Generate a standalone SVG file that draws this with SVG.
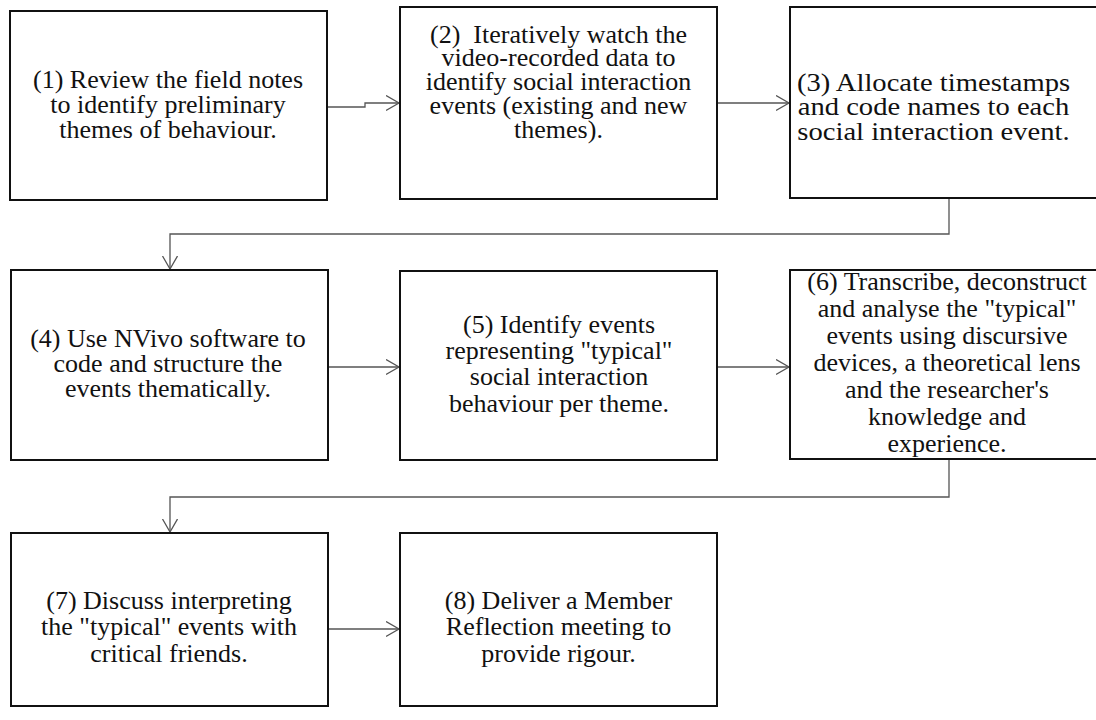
<svg xmlns="http://www.w3.org/2000/svg" width="1096" height="720" viewBox="0 0 1096 720">
<style>
.box{fill:#fff;stroke:#111;stroke-width:2}
.lbl{font-size:26px;fill:#111;text-anchor:middle}
.con{fill:none;stroke:#555;stroke-width:1.3}
</style>
<defs>
<marker id="arr" markerUnits="userSpaceOnUse" markerWidth="16" markerHeight="18" refX="13" refY="8" orient="auto">
<path d="M0,0.5 L13,8 L0,15.5" fill="none" stroke="#555" stroke-width="1.3"/>
</marker>
</defs>
<rect width="1096" height="720" fill="#fff"/>
<g id="connectors">
<path class="con" d="M327,107 H365 V103 H399" marker-end="url(#arr)"/>
<path class="con" d="M717,103 H789" marker-end="url(#arr)"/>
<path class="con" d="M949,198 V234 H170 V269" marker-end="url(#arr)"/>
<path class="con" d="M328,367 H399" marker-end="url(#arr)"/>
<path class="con" d="M717,367 H789" marker-end="url(#arr)"/>
<path class="con" d="M949,459 V497 H170 V532" marker-end="url(#arr)"/>
<path class="con" d="M328,629 H399" marker-end="url(#arr)"/>
</g>
<g id="n1">
<rect class="box" x="10" y="11" width="317" height="189"/>
<text class="lbl" font-family="Liberation Serif, serif"><tspan x="168" y="88">(1) Review the field notes</tspan><tspan x="168" y="113">to identify preliminary</tspan><tspan x="168" y="138">themes of behaviour.</tspan></text>
</g>
<g id="n2">
<rect class="box" x="400" y="7" width="317" height="192"/>
<text class="lbl" font-family="Liberation Serif, serif"><tspan x="558.5" y="43">(2)&#160; Iteratively watch the</tspan><tspan x="558.5" y="66">video-recorded data to</tspan><tspan x="558.5" y="90">identify social interaction</tspan><tspan x="558.5" y="114">events (existing and new</tspan><tspan x="558.5" y="138">themes).</tspan></text>
</g>
<g id="n3">
<rect class="box" x="790" y="7" width="320" height="191"/>
<text class="lbl" font-family="Liberation Serif, serif" transform="translate(933.5 0) scale(1.1 1)"><tspan x="0" y="91">(3) Allocate timestamps</tspan><tspan x="0" y="115">and code names to each</tspan><tspan x="0" y="140">social interaction event.</tspan></text>
</g>
<g id="n4">
<rect class="box" x="11" y="270" width="317" height="190"/>
<text class="lbl" font-family="Liberation Serif, serif"><tspan x="168" y="347">(4) Use NVivo software to</tspan><tspan x="168" y="372">code and structure the</tspan><tspan x="168" y="397">events thematically.</tspan></text>
</g>
<g id="n5">
<rect class="box" x="400" y="271" width="317" height="189"/>
<text class="lbl" font-family="Liberation Serif, serif"><tspan x="559" y="333">(5) Identify events</tspan><tspan x="559" y="359">representing "typical"</tspan><tspan x="559" y="385">social interaction</tspan><tspan x="559" y="412">behaviour per theme.</tspan></text>
</g>
<g id="n6">
<rect class="box" x="790" y="270" width="320" height="189"/>
<text class="lbl" font-family="Liberation Serif, serif"><tspan x="947" y="290">(6) Transcribe, deconstruct</tspan><tspan x="947" y="317">and analyse the "typical"</tspan><tspan x="947" y="344">events using discursive</tspan><tspan x="947" y="371">devices, a theoretical lens</tspan><tspan x="947" y="398">and the researcher's</tspan><tspan x="947" y="425">knowledge and</tspan><tspan x="947" y="452">experience.</tspan></text>
</g>
<g id="n7">
<rect class="box" x="11" y="533" width="317" height="173"/>
<text class="lbl" font-family="Liberation Serif, serif"><tspan x="169" y="609">(7) Discuss interpreting</tspan><tspan x="169" y="635">the "typical" events with</tspan><tspan x="169" y="662">critical friends.</tspan></text>
</g>
<g id="n8">
<rect class="box" x="400" y="533" width="317" height="173"/>
<text class="lbl" font-family="Liberation Serif, serif"><tspan x="558.5" y="609">(8) Deliver a Member</tspan><tspan x="558.5" y="635">Reflection meeting to</tspan><tspan x="558.5" y="662">provide rigour.</tspan></text>
</g>
</svg>
